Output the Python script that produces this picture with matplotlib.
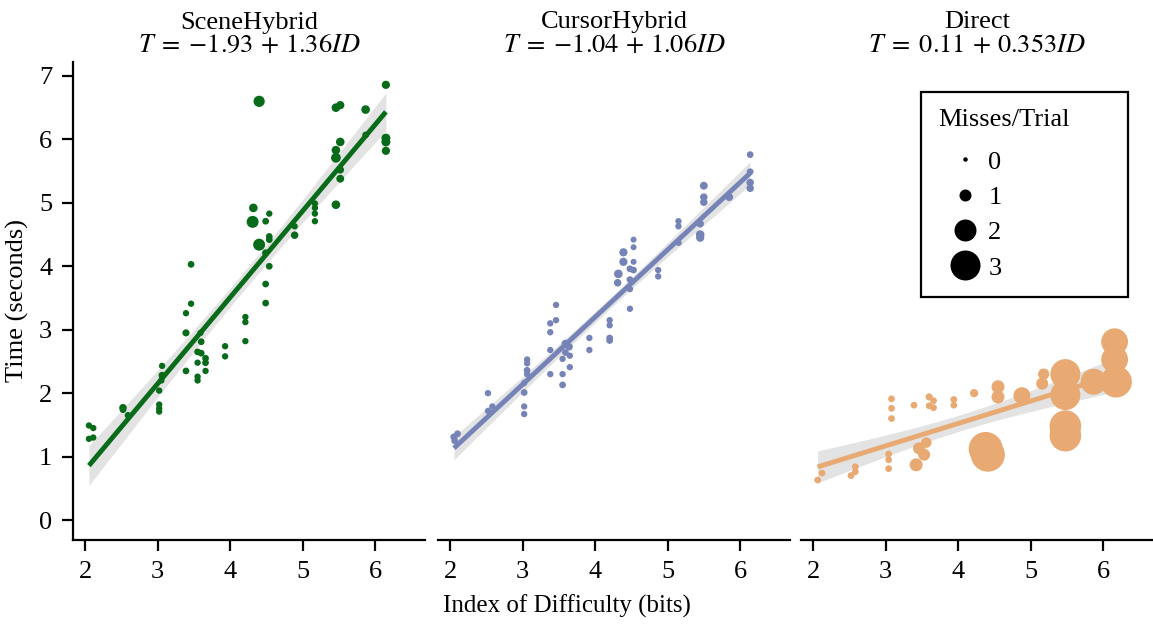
import numpy as np
import matplotlib
matplotlib.use("Agg")
import matplotlib.pyplot as plt
from matplotlib.lines import Line2D

plt.rcParams['font.family'] = 'serif'
plt.rcParams['font.serif'] = ['Liberation Serif', 'DejaVu Serif']
plt.rcParams['mathtext.fontset'] = 'stix'

# ---- data ----
techniques = ["SceneHybrid", "CursorHybrid", "Direct"]
intercepts = [-1.93, -1.04, 0.11]
slopes = [1.36, 1.06, 0.353]
colors = ['#076b1a', '#7683b6', '#e8aa72']

scene_id = [2.05, 2.11, 2.05, 2.11, 2.52, 2.52, 2.59,
            3.06, 3.06, 3.05, 3.02, 3.02, 3.02, 3.02,
            3.39, 3.46, 3.46, 3.39, 3.39,
            3.59, 3.60, 3.55, 3.60, 3.55, 3.66, 3.66, 3.66, 3.55, 3.55,
            3.93, 3.93, 4.21, 4.21, 4.21,
            4.32, 4.31, 4.40, 4.40,
            4.49, 4.54, 4.54, 4.54, 4.49, 4.54, 4.49, 4.49,
            4.89, 4.89, 5.17, 5.17, 5.17, 5.17,
            5.46, 5.46, 5.52, 5.52, 5.46, 5.46, 5.52, 5.52,
            5.87, 5.87, 6.15, 6.15, 6.15, 6.15]
scene_time = [1.49, 1.45, 1.28, 1.30, 1.77, 1.74, 1.65,
              2.43, 2.28, 2.20, 2.04, 1.82, 1.76, 1.71,
              3.26, 3.41, 4.03, 2.95, 2.35,
              2.95, 2.81, 2.65, 2.63, 2.48, 2.55, 2.48, 2.35, 2.26, 2.20,
              2.74, 2.58, 3.20, 3.12, 2.82,
              4.92, 4.70, 4.34, 6.60,
              4.71, 4.83, 4.47, 4.42, 4.21, 4.00, 3.72, 3.42,
              4.49, 4.63, 4.99, 4.92, 4.83, 4.71,
              4.97, 6.50, 6.54, 5.96, 5.83, 5.71, 5.52, 5.38,
              6.47, 6.07, 6.86, 6.02, 5.96, 5.82]
scene_miss = [0.25, 0.25, 0.25, 0.25, 0.4, 0.3, 0.3,
              0.25, 0.35, 0.25, 0.25, 0.25, 0.25, 0.25,
              0.25, 0.25, 0.3, 0.35, 0.3,
              0.25, 0.3, 0.3, 0.3, 0.25, 0.3, 0.3, 0.25, 0.25, 0.25,
              0.25, 0.25, 0.25, 0.25, 0.25,
              0.55, 1.0, 1.0, 0.9,
              0.3, 0.25, 0.3, 0.3, 0.35, 0.3, 0.3, 0.3,
              0.4, 0.25, 0.25, 0.25, 0.25, 0.25,
              0.55, 0.55, 0.5, 0.55, 0.55, 0.7, 0.4, 0.45,
              0.55, 0.3, 0.5, 0.6, 0.6, 0.5]

cursor_id = [2.05, 2.10, 2.06, 2.52, 2.52, 2.58,
             3.06, 3.06, 3.06, 3.06, 3.02, 3.02, 3.02, 3.02,
             3.46, 3.46, 3.38, 3.38, 3.38, 3.38,
             3.59, 3.64, 3.59, 3.55, 3.65, 3.65, 3.55, 3.55,
             3.92, 3.92, 4.20, 4.20, 4.20, 4.20,
             4.39, 4.39, 4.32, 4.31,
             4.53, 4.53, 4.53, 4.48, 4.53, 4.48, 4.48, 4.48,
             4.87, 4.87, 5.15, 5.15, 5.15,
             5.45, 5.45, 5.45, 5.50, 5.50, 5.50,
             5.85, 6.14, 6.14, 6.14, 6.14]
cursor_time = [1.31, 1.36, 1.25, 2.00, 1.72, 1.79,
               2.53, 2.47, 2.36, 2.30, 2.16, 2.01, 1.79, 1.67,
               3.39, 3.15, 3.10, 2.96, 2.68, 2.30,
               2.78, 2.73, 2.64, 2.54, 2.59, 2.41, 2.30, 2.13,
               2.87, 2.68, 3.15, 3.07, 2.87, 2.83,
               4.22, 4.07, 3.88, 3.74,
               4.42, 4.30, 4.07, 3.96, 3.94, 3.79, 3.64, 3.33,
               3.94, 3.84, 4.71, 4.63, 4.37,
               4.67, 4.50, 4.45, 5.27, 5.09, 5.01,
               5.09, 5.76, 5.49, 5.32, 5.23]
cursor_miss = [0.35, 0.3, 0.3, 0.25, 0.25, 0.25,
               0.25, 0.25, 0.3, 0.25, 0.25, 0.3, 0.25, 0.25,
               0.25, 0.25, 0.25, 0.25, 0.25, 0.25,
               0.45, 0.4, 0.3, 0.25, 0.25, 0.25, 0.25, 0.3,
               0.25, 0.25, 0.25, 0.25, 0.3, 0.3,
               0.5, 0.5, 0.55, 0.4,
               0.2, 0.2, 0.2, 0.3, 0.3, 0.3, 0.25, 0.25,
               0.25, 0.25, 0.25, 0.25, 0.25,
               0.4, 0.55, 0.5, 0.45, 0.4, 0.4,
               0.45, 0.3, 0.3, 0.4, 0.4]

direct_id = [2.06, 2.12, 2.52, 2.58, 2.58,
             3.04, 3.04, 3.04, 3.08, 3.08, 3.08,
             3.39, 3.60, 3.66, 3.60, 3.66,
             3.56, 3.46, 3.53, 3.42,
             3.94, 3.94, 4.22, 4.38, 4.41,
             4.55, 4.55, 4.88, 5.18, 5.16,
             5.48, 5.48, 5.48, 5.48,
             5.87, 6.16, 6.16, 6.18]
direct_time = [0.63, 0.74, 0.70, 0.84, 0.76,
               1.04, 0.95, 0.81, 1.91, 1.76, 1.60,
               1.81, 1.94, 1.88, 1.80, 1.77,
               1.22, 1.13, 1.03, 0.87,
               1.90, 1.81, 2.00, 1.12, 1.03,
               2.10, 1.94, 1.96, 2.30, 2.15,
               2.30, 1.97, 1.48, 1.33,
               2.18, 2.81, 2.53, 2.18]
direct_miss = [0.3, 0.3, 0.3, 0.3, 0.3,
               0.3, 0.3, 0.3, 0.3, 0.3, 0.3,
               0.3, 0.35, 0.3, 0.3, 0.3,
               0.8, 1.0, 1.0, 1.1,
               0.3, 0.3, 0.5, 3.5, 3.5,
               1.1, 1.1, 1.5, 0.9, 1.0,
               3.0, 3.0, 3.2, 3.2,
               2.5, 2.6, 2.6, 3.2]

legend_levels = [0, 1, 2, 3]

all_id = [scene_id, cursor_id, direct_id]
all_time = [scene_time, cursor_time, direct_time]
all_miss = [scene_miss, cursor_miss, direct_miss]

FS = 19


def miss_to_diam(m):
    # marker diameter in pixels (dpi 100)
    m = np.asarray(m, dtype=float)
    d = np.interp(m, [0, 1, 2, 3], [4.5, 12, 22, 30])
    return np.where(m > 3, 30 + 8 * (m - 3), d)


def diam_to_s(d):
    return (d * 0.72) ** 2


fig = plt.figure(figsize=(11.53, 6.27), dpi=100)
W, H = 1153., 627.
lefts = [73, 438, 801]
bottom = 1 - 540 / H
height = (540 - 62) / H
axs = []
for i in range(3):
    ax = fig.add_axes([lefts[i] / W, bottom, 352 / W, height])
    axs.append(ax)

for i, ax in enumerate(axs):
    x = np.array(all_id[i])
    y = np.array(all_time[i])
    m = np.array(all_miss[i])
    a, b = intercepts[i], slopes[i]

    # regression line with 95% band
    xs = np.linspace(x.min(), x.max(), 100)
    yhat = a + b * xs
    resid = y - (a + b * x)
    n = len(x)
    s = np.sqrt(np.sum(resid ** 2) / (n - 2))
    sxx = np.sum((x - x.mean()) ** 2)
    se = s * np.sqrt(1 / n + (xs - x.mean()) ** 2 / sxx)
    ax.fill_between(xs, yhat - 1.98 * se, yhat + 1.98 * se,
                    color='#e3e3e3', lw=0, zorder=1)
    ax.plot(xs, yhat, color=colors[i], lw=3.5, zorder=2,
            solid_capstyle='butt')
    ax.scatter(x, y, s=diam_to_s(miss_to_diam(m)), color=colors[i],
               lw=0, zorder=3)

    ax.set_xlim(1.83, 6.69)
    ax.set_ylim(-0.315, 7.22)
    ax.set_xticks([2, 3, 4, 5, 6])
    ax.set_yticks(range(0, 8))
    ax.tick_params(axis='both', labelsize=FS, length=8, width=1.6, pad=7)
    ax.spines['top'].set_visible(False)
    ax.spines['right'].set_visible(False)
    for sp in ['left', 'bottom']:
        ax.spines[sp].set_linewidth(1.6)
    if i > 0:
        ax.spines['left'].set_visible(False)
        ax.tick_params(axis='y', left=False, labelleft=False)

    sign = '-' if a < 0 else ''
    ax.set_title("%s\n$T\\;=\\;{%s%s}\\,+\\,%sID$" % (techniques[i], sign, abs(a), b),
                 fontsize=FS, pad=7, linespacing=1.05)

axs[0].set_ylabel("Time (seconds)", fontsize=FS)
axs[0].yaxis.set_label_coords(-44 / 352, 0.5)
fig.text(567 / W, 1 - 606 / H, "Index of Difficulty (bits)",
         ha='center', va='center', fontsize=18)

# size legend
handles = []
for lv in legend_levels:
    d = float(miss_to_diam(lv))
    handles.append(Line2D([], [], ls='none', marker='o', color='black',
                          markersize=d * 0.72, markeredgewidth=0))
leg = axs[2].legend(handles, [str(v) for v in legend_levels],
                    title="Misses/Trial", loc='upper left',
                    bbox_to_anchor=(0.341, 0.502, 0.588, 0.435),
                    mode='expand', fontsize=FS,
                    title_fontsize=FS, fancybox=False, framealpha=1,
                    edgecolor='black', labelspacing=0.45, borderpad=0.65,
                    handlelength=2.0, handletextpad=-0.1, borderaxespad=0)
leg.get_frame().set_linewidth(1.6)
leg._legend_box.align = "left"
leg._legend_box.sep = 0.45 * FS + 5

plt.savefig("out.png", dpi=100)
